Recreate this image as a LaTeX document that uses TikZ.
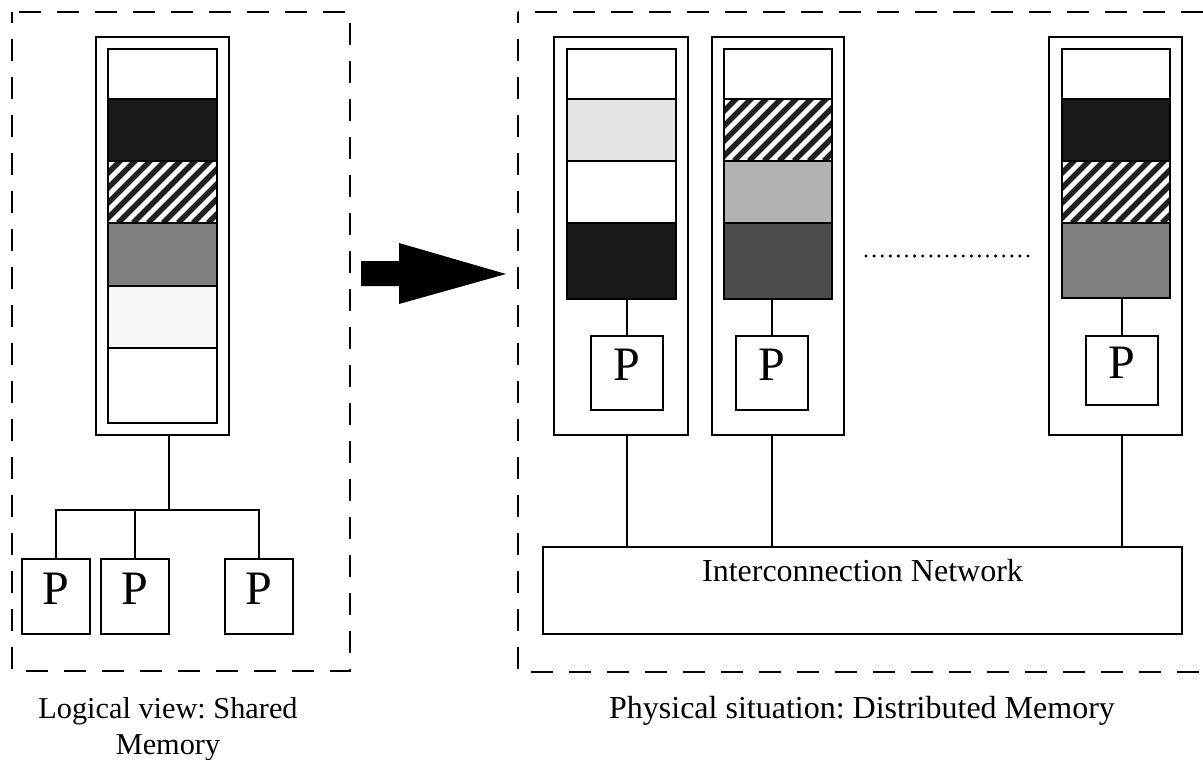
\documentclass[tikz,border=0pt]{standalone}
\usepackage{fontspec}
\setmainfont{Liberation Serif}
\frenchspacing
\definecolor{shadeA}{gray}{0.10}
\definecolor{shadeB}{gray}{0.30}
\definecolor{shadeC}{gray}{0.50}
\definecolor{shadeD}{gray}{0.70}
\definecolor{shadeE}{gray}{0.90}
\definecolor{shadeF}{gray}{0.97}
\definecolor{stripeink}{HTML}{231F20}
\tikzset{
  frame/.style={draw, line width=1.8pt, dash pattern=on 22pt off 16pt, dash phase=11pt},
  outerbox/.style={draw, line width=2pt, inner sep=0pt, outer sep=0pt, fill=white},
  band/.style={draw, line width=1.3pt, inner sep=0pt, outer sep=0pt, minimum width=#1},
  band/.default=109pt,
  hatched/.style={path picture={
      \foreach \k in {0,...,16}
        \draw[line width=5.6pt, stripeink]
          ([xshift=\k*15pt-110pt]path picture bounding box.south west) -- ++(130pt,130pt);}},
  pbox/.style={draw, line width=1.5pt, inner sep=0pt, outer sep=0pt, fill=white,
    font=\fontsize{48}{48}\selectfont, text depth=16pt},
  wire/.style={line width=1.5pt},
  caption/.style={inner sep=0pt, anchor=base, font=\fontsize{32}{36}\selectfont},
}
\begin{document}
\begin{tikzpicture}[x=1pt, y=-1pt]
\clip (0,0) rectangle (1203,760);
\fill[white] (0,0) rectangle (1203,760);

% ---------- shared memory (logical view) ----------
\draw[frame] (12,12) rectangle (350,671);
\node[outerbox, minimum width=133pt, minimum height=398pt] (memL) at (162.5,236) {};
\node[band, fill=white,  minimum height=50pt] (l1) at (162.5,74)    {};
\node[band, fill=shadeA, minimum height=62pt] (l2) at (162.5,130)   {};
\node[band, fill=white, hatched, minimum height=62pt] (l3) at (162.5,192) {};
\node[band, fill=shadeC, minimum height=63pt] (l4) at (162.5,254.5) {};
\node[band, fill=shadeF, minimum height=62pt] (l5) at (162.5,317)   {};
\node[band, fill=white,  minimum height=75pt] (l6) at (162.5,385.5) {};

\node[pbox, minimum width=68pt, minimum height=75pt] (p1) at (56,596.5)  {P};
\node[pbox, minimum width=68pt, minimum height=75pt] (p2) at (135,596.5) {P};
\node[pbox, minimum width=68pt, minimum height=75pt] (p3) at (259,596.5) {P};

\coordinate (bus) at (169,510);
\draw[wire] (memL.south -| bus) -- (bus);
\draw[wire] (p1.north) |- (bus);
\draw[wire] (p3.north) |- (bus);
\draw[wire] (p2.north) -- (p2.north |- bus);

\node[caption, font=\fontsize{30.3}{36}\selectfont] (capL1) at (168,718) {Logical view: Shared};
\node[caption, font=\fontsize{30.3}{36}\selectfont] (capL2) at (168,754) {Memory};

% ---------- arrow ----------
\fill (361,261) -- (399,261) -- (399,243) -- (506,274) -- (399,304) -- (399,286) -- (361,286) -- cycle;

% ---------- distributed memory (physical situation) ----------
\draw[frame] (518,12) rectangle (1240,672);

% node 1
\node[outerbox, minimum width=134pt, minimum height=398pt] (m1) at (621,236) {};
\node[band, fill=white,  minimum height=50pt] (a1) at (621.5,74)  {};
\node[band, fill=shadeE, minimum height=62pt] (a2) at (621.5,130) {};
\node[band, fill=white,  minimum height=62pt] (a3) at (621.5,192) {};
\node[band, fill=shadeA, minimum height=76pt] (a4) at (621.5,261) {};
\node[pbox, minimum width=72pt, minimum height=74pt] (q1) at (627,373) {P};
\draw[wire] (a4.south -| q1) -- (q1.north);

% node 2
\node[outerbox, minimum width=132pt, minimum height=398pt] (m2) at (778,236) {};
\node[band=108pt, fill=white,  minimum height=50pt] (b1) at (778,74)  {};
\node[band=108pt, fill=white, hatched, minimum height=62pt] (b2) at (778,130) {};
\node[band=108pt, fill=shadeD, minimum height=62pt] (b3) at (778,192) {};
\node[band=108pt, fill=shadeB, minimum height=76pt] (b4) at (778,261) {};
\node[pbox, minimum width=72pt, minimum height=74pt] (q2) at (772,373) {P};
\draw[wire] (b4.south -| q2) -- (q2.north);

% node n
\node[outerbox, minimum width=133pt, minimum height=398pt] (m3) at (1115.5,236) {};
\node[band=108pt, fill=white,  minimum height=50pt] (c1) at (1116,74)  {};
\node[band=108pt, fill=shadeA, minimum height=62pt] (c2) at (1116,130) {};
\node[band=108pt, fill=white, hatched, minimum height=62pt] (c3) at (1116,192) {};
\node[band=108pt, fill=shadeC, minimum height=75pt] (c4) at (1116,260.5) {};
\node[pbox, minimum width=72pt, minimum height=69pt] (q3) at (1122,370.5) {P};
\draw[wire] (c4.south -| q3) -- (q3.north);

% omitted nodes
\coordinate (dotA) at (866,256);
\coordinate (dotB) at (1028,256);
\draw[line width=3.4pt, line cap=round, dash pattern=on 0pt off 8.1pt] (dotA) -- (dotB);

% interconnection network
\node[draw, line width=1.5pt, inner sep=0pt, outer sep=0pt,
      minimum width=639pt, minimum height=87pt] (net) at (862.5,590.5) {};
\node[caption] (netlabel) at (862.5,581) {Interconnection Network};
\draw[wire] (q1 |- m1.south) -- (q1 |- net.north);
\draw[wire] (q2 |- m2.south) -- (q2 |- net.north);
\draw[wire] (q3 |- m3.south) -- (q3 |- net.north);

\node[caption] (capR) at (862,718) {Physical situation: Distributed Memory};
\end{tikzpicture}
\end{document}
